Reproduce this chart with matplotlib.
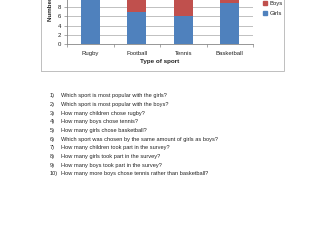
import matplotlib
matplotlib.use('Agg')
import matplotlib.pyplot as plt
from matplotlib.patches import Rectangle, Patch

# survey data: favourite sport by girls and boys
sports = ['Rugby', 'Football', 'Tennis', 'Basketball']
girls = [12, 7, 6, 9]
boys = [3, 5, 6, 1]
y_ticks = [0, 2, 4, 6, 8, 10]

questions = [
    'Which sport is most popular with the girls?',
    'Which sport is most popular with the boys?',
    'How many children chose rugby?',
    'How many boys chose tennis?',
    'How many girls chose basketball?',
    'Which sport was chosen by the same amount of girls as boys?',
    'How many children took part in the survey?',
    'How many girls took part in the survey?',
    'How many boys took part in the survey?',
    'How many more boys chose tennis rather than basketball?',
]

W, H = 336, 252
plt.rcParams['font.family'] = ['Liberation Sans', 'DejaVu Sans']
blue = '#4F81BD'
red = '#C0504D'

fig = plt.figure(figsize=(W / 100, H / 100), dpi=100)
fig.patch.set_facecolor('white')

# chart frame, top is cut off like in the scanned worksheet
fig.add_artist(Rectangle((41 / W, 1 - 70.7 / H), (284 - 41) / W, 1.0,
                         transform=fig.transFigure, fill=False,
                         edgecolor='#BFBFBF', lw=0.7))

# plot area: 0 at y=44px, 4.6px per unit
ax = fig.add_axes([67 / W, 1 - 44 / H, (253 - 67) / W, 14 * 4.6 / H])
x = range(len(sports))
ax.bar(x, girls, width=0.4, color=blue, label='Girls', zorder=3)
ax.bar(x, boys, width=0.4, bottom=girls, color=red, label='Boys', zorder=3)
ax.set_xlim(-0.5, len(sports) - 0.5)
ax.set_ylim(0, 14)
ax.set_yticks(y_ticks)
ax.set_xticks(list(x))
ax.set_xticklabels(sports)
ax.set_xticks([i - 0.5 for i in range(len(sports) + 1)], minor=True)
ax.grid(axis='y', color='#A6A6A6', lw=0.5, zorder=0)
for s in ['top', 'right']:
    ax.spines[s].set_visible(False)
for s in ['left', 'bottom']:
    ax.spines[s].set_color('#868686')
    ax.spines[s].set_linewidth(0.6)
ax.tick_params(axis='x', which='major', length=0, labelsize=4.3, pad=5,
               labelcolor='#222222')
ax.tick_params(axis='x', which='minor', length=2, width=0.5, color='#868686')
ax.tick_params(axis='y', length=2, width=0.5, color='#868686', labelsize=4.3,
               pad=2, labelcolor='#222222')
ax.set_xlabel('Type of sport', fontsize=4.5, weight='bold', labelpad=2.5,
              color='#222222')

fig.text(50.7 / W, 1 - 20.7 / H, 'Number of children', rotation=90,
         ha='center', va='bottom', fontsize=4.5, weight='bold', color='#222222')

handles = [Patch(color=red, label='Boys'), Patch(color=blue, label='Girls')]
fig.legend(handles=handles, loc='center left',
           bbox_to_anchor=(263 / W, 1 - 8.5 / H), frameon=False,
           fontsize=4.3, handlelength=0.6, handleheight=0.6,
           handletextpad=0.5, labelspacing=0.9, borderpad=0, borderaxespad=0,
           labelcolor='#222222')

# worksheet questions under the chart
for i, q in enumerate(questions):
    y = 1 - (95.9 + i * 8.65) / H
    fig.text(50 / W, y, f'{i + 1})', ha='left', va='center', fontsize=4.1,
             color='#222222')
    fig.text(61 / W, y, q, ha='left', va='center', fontsize=4.1,
             color='#222222')

fig.savefig('out.png', dpi=100)
